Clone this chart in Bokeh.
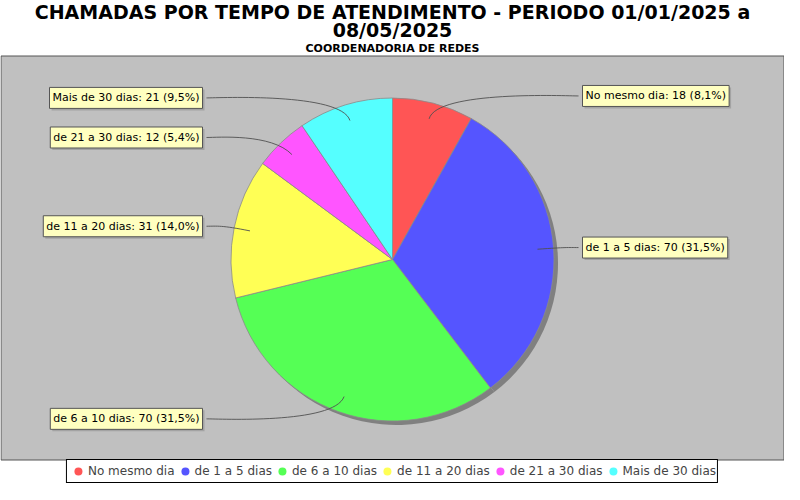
import math
import numpy as np
from bokeh.plotting import figure
from bokeh.models import ColumnDataSource, Range1d, Legend, LegendItem
from bokeh.core.properties import value
from bokeh.embed import file_html
from bokeh.resources import INLINE

categories = ["No mesmo dia", "de 1 a 5 dias", "de 6 a 10 dias",
              "de 11 a 20 dias", "de 21 a 30 dias", "Mais de 30 dias"]
counts = [18, 70, 70, 31, 12, 21]
colors = ["#FF5555", "#5555FF", "#55FF55", "#FFFF55", "#FF55FF", "#55FFFF"]
title_lines = ["CHAMADAS POR TEMPO DE ATENDIMENTO - PERIODO 01/01/2025 a", "08/05/2025"]
subtitle = "COORDENADORIA DE REDES"

W, H = 784, 484


def px(x):
    return x - 8


def py(y):
    return 492 - y


p = figure(width=W, height=H, x_range=Range1d(0, W), y_range=Range1d(0, H),
           output_backend="svg", toolbar_location=None, min_border=0,
           x_axis_location=None, y_axis_location=None, outline_line_color=None,
           background_fill_color="white", border_fill_color="white")
p.grid.visible = False

# plot background panel
p.quad(left=[px(8.5)], right=[px(791.5)], bottom=[py(467.5)], top=[py(63.5)],
       fill_color="#C0C0C0", line_color="#555555", line_width=1)

# titles
TF = "DejaVu Sans"
p.text(x=[px(400)], y=[py(8.5)], text=[title_lines[0]], text_align="center", text_baseline="top",
       text_font=value(TF), text_font_style="bold", text_font_size="19px", text_color="black")
p.text(x=[px(400)], y=[py(37.5)], text=[title_lines[1]], text_align="center", text_baseline="middle",
       text_font=value(TF), text_font_style="bold", text_font_size="19px", text_color="black")
p.text(x=[px(400)], y=[py(56)], text=[subtitle], text_align="center", text_baseline="middle",
       text_font=value(TF), text_font_style="bold", text_font_size="11px", text_color="black")

# pie geometry
cx, cy, R = px(400), py(267), 161.5
total = sum(counts)
fr = np.array(counts) / total
cum1 = np.cumsum(fr)
cum0 = cum1 - fr
start = np.pi / 2 - 2 * np.pi * cum1
end = np.pi / 2 - 2 * np.pi * cum0
mid = np.pi / 2 - 2 * np.pi * (cum0 + cum1) / 2

src = ColumnDataSource(dict(start=start, end=end, color=colors, cat=categories, val=counts))

# shadow
p.wedge(x=cx + 4, y=cy - 4, radius=R, start_angle="start", end_angle="end", source=src,
        fill_color="#808080", line_color=None)
p.wedge(x=cx, y=cy, radius=R, start_angle="start", end_angle="end", source=src,
        fill_color="color", line_color="#8a8a8a", line_width=0.8)

# labels
L = 169.0
linkR = 175.0
gap = 186.0
padx, pady = 3, 4
lab_txt, lab_x, lab_y, lab_align = [], [], [], []
bx0, by0, bx1, by1, bcx0, bcy0, bcx1, bcy1 = [], [], [], [], [], [], [], []
for i in range(len(counts)):
    pct = f"{100 * fr[i]:.1f}".replace(".", ",")
    lab_txt.append(f"{categories[i]}: {counts[i]} ({pct}%)")
    m = mid[i]
    ty = cy + L * math.sin(m)
    right = math.cos(m) > 0
    tx = cx + gap if right else cx - gap
    ax = cx + linkR if right else cx - linkR
    ex = cx + linkR * math.cos(m)
    ey = cy + linkR * math.sin(m)
    lx = cx + 0.9 * R * math.cos(m)
    ly = cy + 0.9 * R * math.sin(m)
    lab_x.append(tx + padx + 1 if right else tx - padx - 1)
    lab_y.append(ty)
    lab_align.append("left" if right else "right")
    bx0.append(tx); by0.append(ty); bcx0.append(ax); bcy0.append(ty)
    bcx1.append(ex); bcy1.append(ey); bx1.append(lx); by1.append(ly)

p.bezier(x0=bx0, y0=by0, x1=bx1, y1=by1, cx0=bcx0, cy0=bcy0, cx1=bcx1, cy1=bcy1,
         line_color="#505050", line_width=0.9)

lsrc = ColumnDataSource(dict(x=lab_x, y=lab_y, t=lab_txt, a=lab_align))
LF = "DejaVu Sans"
p.text(x="x", y="y", text="t", text_align="a", text_baseline="middle", source=lsrc,
       x_offset=2, y_offset=2, text_font=value(LF), text_font_size="11px", text_alpha=0,
       background_fill_color="#979797", background_fill_alpha=0.7, padding=dict(x=padx, y=pady))
p.text(x="x", y="y", text="t", text_align="a", text_baseline="middle", source=lsrc,
       text_font=value(LF), text_font_size="11px", text_color="black",
       background_fill_color="#FFFFC0", border_line_color="#555555", border_line_width=1,
       padding=dict(x=padx, y=pady))

# legend
lg = ColumnDataSource(dict(x=[np.nan] * 6, y=[np.nan] * 6, color=colors))
sc = p.scatter(x="x", y="y", source=lg, fill_color="color", line_color=None, size=8)
items = [LegendItem(label=categories[i], renderers=[sc], index=i) for i in range(6)]
legend = Legend(items=items, orientation="horizontal", location="bottom_center",
                margin=1, padding=1, spacing=-3, label_standoff=-4,
                glyph_width=20, glyph_height=20, label_height=15,
                label_text_font=TF, label_text_font_size="12px", label_text_color="#444444",
                border_line_color="black", border_line_width=1, border_line_alpha=1,
                background_fill_color="white", background_fill_alpha=1)
p.add_layout(legend)

open("out.html", "w").write(file_html(p, INLINE))
